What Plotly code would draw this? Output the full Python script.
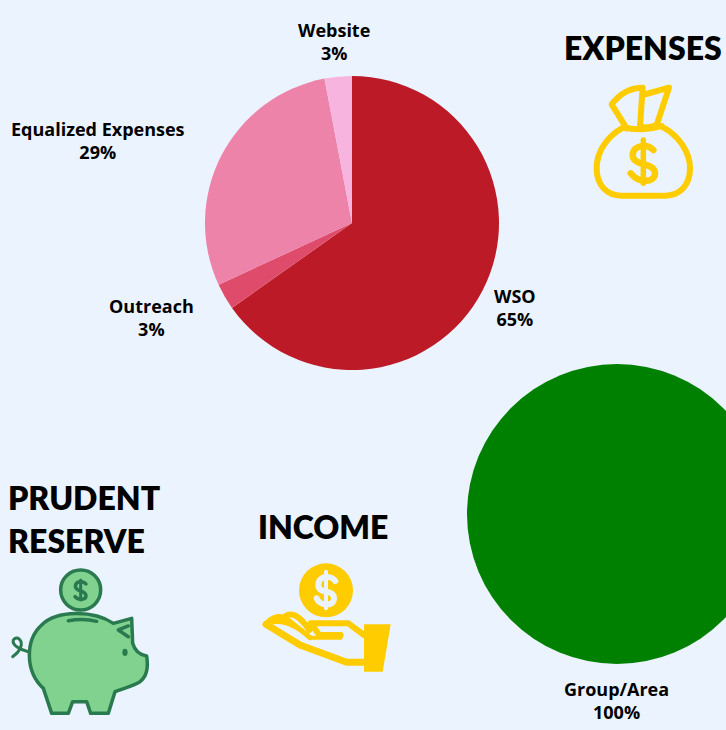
import re
import plotly.graph_objects as go

expense_labels = ["WSO", "Outreach", "Equalized Expenses", "Website"]
expense_values = [65.2, 2.9, 28.9, 3.0]
expense_colors = ["#BC1A26", "#DF4B6B", "#EE83A9", "#F7B4DE"]
income_labels = ["Group/Area"]
income_values = [100]
income_colors = ["#008000"]

W, H = 800, 730
BG = "#EBF3FE"
YEL = "#FFCC00"
PIG = "#82D28F"
PIGL = "#2A7A50"
FONT = "Lato"
LABEL_FONT = "Open Sans"


def dom(x0, x1, y0, y1):
    return dict(x=[x0 / W, x1 / W], y=[1 - y1 / H, 1 - y0 / H])


def conv(path, ox, oy):
    def f(m):
        x = ox + float(m.group(1)) / 3
        y = oy + float(m.group(2)) / 3
        return f"{x / W:.5f},{1 - y / H:.5f}"
    return re.sub(r"(-?[\d.]+),(-?[\d.]+)", f, path)


shapes = []


def stroke(path, ox, oy, color, width, fill=None):
    shapes.append(dict(type="path", xref="paper", yref="paper", path=conv(path, ox, oy),
                       line=dict(color=color, width=width),
                       fillcolor=fill if fill else "rgba(0,0,0,0)"))


def circle(cx, cy, rx, ry, ox, oy, fill, color=None, width=0):
    x0 = (ox + (cx - rx) / 3) / W
    x1 = (ox + (cx + rx) / 3) / W
    y0 = 1 - (oy + (cy + ry) / 3) / H
    y1 = 1 - (oy + (cy - ry) / 3) / H
    shapes.append(dict(type="circle", xref="paper", yref="paper", x0=x0, x1=x1, y0=y0, y1=y1,
                       fillcolor=fill, line=dict(color=color or fill, width=width)))


# money bag
ox, oy = 560, 20
stroke("M190,322 C140,350 110,395 110,445 C110,495 140,527 185,527 L315,527 C360,527 390,495 390,445 C390,395 355,345 305,320", ox, oy, YEL, 6)
stroke("M200,325 L155,253 C180,220 210,203 248,203 L240,320 C260,325 275,322 290,315 L327,203 L248,225", ox, oy, YEL, 6)
stroke("M190,322 C220,330 270,330 305,318", ox, oy, YEL, 6)
stroke("M250,360 L250,490", ox, oy, YEL, 5.5)
stroke("M280,390 C265,372 220,372 218,405 C218,440 285,425 285,460 C285,490 235,490 212,460", ox, oy, YEL, 6.5)

# piggy bank
ox, oy = 0, 560
stroke("M85,275 C60,270 35,255 40,240 C50,225 70,240 62,262 C55,280 45,285 38,290", ox, oy, PIGL, 3)
stroke("M130,385 C75,335 75,240 125,195 C170,150 280,150 340,190 L395,175 L398,250 C405,275 420,285 440,288 C445,320 440,350 420,365 C400,378 370,385 345,395 L325,460 L272,460 L260,425 L218,425 L205,460 L155,460 Z", ox, oy, PIGL, 3.5, PIG)
stroke("M205,182 C230,178 265,178 290,184", ox, oy, PIGL, 3.5)
stroke("M385,198 L355,210 L385,230", ox, oy, PIGL, 3.5)
circle(375, 277, 8, 11, ox, oy, PIGL)
circle(242, 90, 60, 60, ox, oy, PIG, PIGL, 3.5)
stroke("M242,60 L242,120", ox, oy, PIGL, 3)
stroke("M258,72 C250,62 228,62 226,78 C226,98 258,88 258,108 C258,120 235,122 225,110", ox, oy, PIGL, 3.5)

# hand and coin
ox, oy = 250, 555
circle(228, 106, 81, 81, ox, oy, YEL)
stroke("M228,50 L228,160", ox, oy, BG, 4)
stroke("M256,78 C245,60 205,60 205,90 C205,120 252,100 252,130 C252,155 210,155 200,130", ox, oy, BG, 6)
stroke("M342,208 L422,208 L398,350 L342,350 Z", ox, oy, YEL, 0, YEL)
stroke("M48,208 L150,270 L290,322 L342,322", ox, oy, YEL, 7)
stroke("M342,240 L295,205 L182,205 L208,240 L272,240", ox, oy, YEL, 6)
stroke("M272,248 L180,248 L150,222", ox, oy, YEL, 4)
stroke("M48,208 C60,192 80,182 100,188 C125,165 150,185 178,225", ox, oy, YEL, 6)
stroke("M70,200 C105,195 145,215 180,248", ox, oy, YEL, 5)
stroke("M110,190 C125,200 135,210 150,222", ox, oy, YEL, 4)

fig = go.Figure()
fig.add_trace(go.Pie(labels=expense_labels, values=expense_values, sort=False, direction="clockwise",
                     marker=dict(colors=expense_colors), textinfo="none",
                     domain=dom(205, 499, 76, 370), automargin=False))
fig.add_trace(go.Pie(labels=income_labels, values=income_values, sort=False,
                     marker=dict(colors=income_colors), textinfo="none",
                     domain=dom(467, 767, 364, 664), automargin=False))


def slice_label(label, values, value, x, y):
    pct = round(100 * value / sum(values))
    fig.add_annotation(text=f"{label}<br>{pct}%", xref="paper", yref="paper", x=x / W, y=1 - y / H,
                       xanchor="center", yanchor="middle", align="center", showarrow=False,
                       font=dict(family=LABEL_FONT, size=18, color="black", weight=700))


label_positions = [(515, 307), (151, 317), (98, 140), (334, 41)]
for name, val, (lx, ly) in zip(expense_labels, expense_values, label_positions):
    slice_label(name, expense_values, val, lx, ly)
slice_label(income_labels[0], income_values, income_values[0], 616, 700)


def title(text, x, y, anchor):
    fig.add_annotation(text=text, xref="paper", yref="paper", x=x / W, y=1 - y / H, xanchor=anchor,
                       yanchor="middle", align="left", showarrow=False,
                       font=dict(family=FONT, size=32, color="black", weight=800))


title("EXPENSES", 643, 48, "center")
title("INCOME", 323, 526, "center")
title("PRUDENT", 6, 497, "left")
title("RESERVE", 6, 540, "left")

fig.update_layout(width=W, height=H, margin=dict(l=0, r=0, t=0, b=0), paper_bgcolor=BG,
                  showlegend=False, shapes=shapes, font=dict(family=FONT))

fig.write_html("out.html", config=dict(displayModeBar=False), post_script="""
document.documentElement.style.overflow='hidden';
document.body.style.margin='0';
document.body.style.overflow='hidden';
document.body.style.background='%s';
document.querySelectorAll('.shapelayer path').forEach(function(p){p.style.strokeLinecap='round';p.style.strokeLinejoin='round';});
""" % BG)
